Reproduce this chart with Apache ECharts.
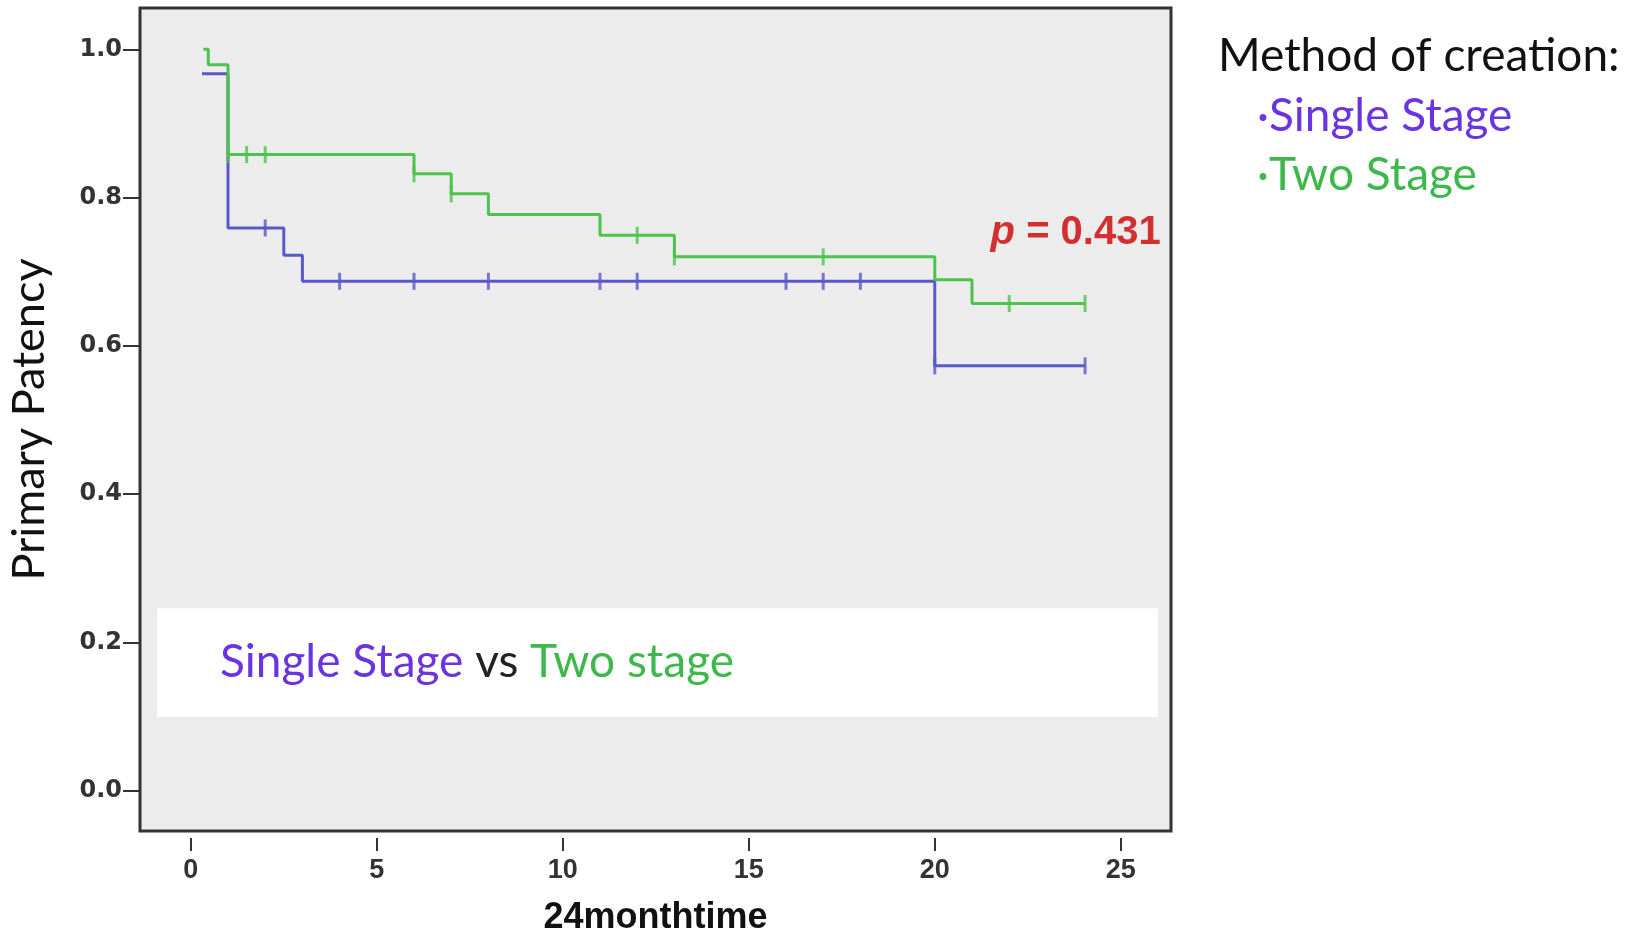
<!DOCTYPE html>
<html>
<head>
<meta charset="utf-8">
<script src="https://cdn.jsdelivr.net/npm/echarts@6/dist/echarts.min.js"></script>
<style>html,body{margin:0;padding:0;background:#fff}#c{width:1644px;height:934px}</style>
</head>
<body>
<div id="c"></div>
<script>
// Kaplan-Meier steps: [time (months), survival after time]
const singleStageSteps = [[0.3,0.967],[1.0,0.759],[2.5,0.722],[3.0,0.687],[20.0,0.573],[24.04,0.573]];
const twoStageSteps = [[0.34,1.0],[0.47,0.979],[1.0,0.858],[6.0,0.832],[7.0,0.805],[8.0,0.777],[11.0,0.749],[13.0,0.72],[20.0,0.689],[21.0,0.657],[24.04,0.657]];
// censored observations
const singleStageCensored = [[2,0.759],[4,0.687],[6,0.687],[8,0.687],[11,0.687],[12,0.687],[16,0.687],[17,0.687],[18,0.687],[20,0.573],[24.04,0.573]];
const twoStageCensored = [[1,0.858],[1.5,0.858],[2,0.858],[6,0.832],[7,0.805],[12,0.749],[13,0.72],[17,0.72],[22,0.657],[24.04,0.657]];
const xTicks = [0,5,10,15,20,25];
const yTicks = [0,0.2,0.4,0.6,0.8,1.0];
const noteBox = [[-0.91,0.246],[26.0,0.0993]];
const pPoint = [21.5,0.752];

const BLUE = '#5a58c6', GREEN = '#4cc34c';
const chart = echarts.init(document.getElementById('c'));
chart.setOption({
  animation:false,
  backgroundColor:'#ffffff',
  grid:{left:140,top:8,right:473,bottom:103,outerBoundsMode:'none',containLabel:false,show:true,backgroundColor:'#ececec',borderColor:'#333',borderWidth:3},
  xAxis:{type:'value',min:-1.366,max:26.35,offset:7,
    name:'24monthtime',nameLocation:'middle',nameGap:62,
    nameTextStyle:{fontFamily:'Liberation Sans',fontWeight:'bold',fontSize:36,color:'#111'},
    axisLine:{show:false,onZero:false},splitLine:{show:false},
    axisTick:{show:true,customValues:xTicks,length:13,lineStyle:{color:'#333',width:2}},
    axisLabel:{customValues:xTicks,margin:19,fontFamily:'Liberation Sans Narrow, Liberation Sans',fontWeight:'bold',fontSize:27,color:'#333'}},
  yAxis:{type:'value',min:-0.0545,max:1.0557,
    name:'Primary Patency',nameLocation:'middle',nameRotate:90,nameGap:88,
    nameTextStyle:{fontFamily:'Lato',fontSize:45,color:'#111'},
    axisLine:{show:false,onZero:false},splitLine:{show:false},
    axisTick:{show:true,customValues:yTicks,length:17,lineStyle:{color:'#333',width:2}},
    axisLabel:{customValues:yTicks,margin:18,formatter:v=>v.toFixed(1),fontFamily:'DejaVu Sans',fontWeight:'bold',fontSize:24,color:'#333'}},
  series:[
    {type:'line',name:'Single Stage',data:singleStageSteps,step:'end',showSymbol:false,
      lineStyle:{color:BLUE,width:3},z:3,
      markArea:{silent:true,itemStyle:{color:'#ffffff'},
        label:{show:true,position:'insideLeft',distance:63,
          formatter:'{a|Single Stage }{b|vs }{c|Two stage}',
          rich:{a:{color:'#6a35e0',fontFamily:'Lato',fontSize:46},b:{color:'#222',fontFamily:'Lato',fontSize:46},c:{color:'#3db84a',fontFamily:'Lato',fontSize:46}}},
        data:[[{coord:noteBox[0]},{coord:noteBox[1]}]]}},
    {type:'line',name:'Two Stage',data:twoStageSteps,step:'end',showSymbol:false,
      lineStyle:{color:GREEN,width:3},z:4},
    {type:'scatter',data:singleStageCensored,symbol:'rect',symbolSize:[3,17],itemStyle:{color:BLUE},z:5},
    {type:'scatter',data:twoStageCensored,symbol:'rect',symbolSize:[3,17],itemStyle:{color:GREEN},z:6},
    {type:'scatter',data:[pPoint],symbolSize:0,z:7,
      label:{show:true,position:'right',distance:0,formatter:'{i|p} = 0.431',
        fontFamily:'Liberation Sans',fontWeight:'bold',fontSize:40,color:'#cc0000',
        textShadowColor:'#300000',textShadowOffsetX:2,textShadowOffsetY:2,textShadowBlur:0,
        rich:{i:{fontStyle:'italic',fontFamily:'Liberation Sans',fontWeight:'bold',fontSize:40,color:'#cc0000',textShadowColor:'#300000',textShadowOffsetX:2,textShadowOffsetY:2}}}}
  ],
  graphic:[
    {type:'text',left:1218,top:33,style:{text:'Method of creation:',fontFamily:'Lato',fontSize:46,fill:'#111'}},
    {type:'text',left:1257,top:93,style:{text:'·Single Stage',fontFamily:'Lato',fontSize:46,fill:'#6a35e0'}},
    {type:'text',left:1257,top:152,style:{text:'·Two Stage',fontFamily:'Lato',fontSize:46,fill:'#3db84a'}}
  ]
});
</script>
</body>
</html>
